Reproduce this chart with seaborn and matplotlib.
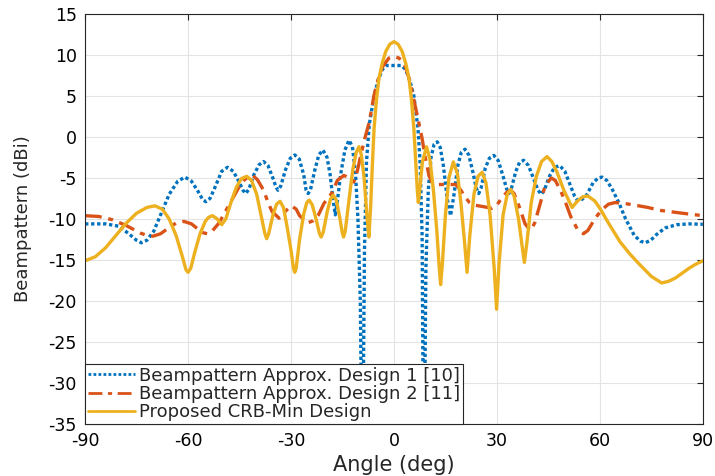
import matplotlib
matplotlib.use("Agg")
import matplotlib.pyplot as plt
import seaborn as sns
import pandas as pd

# values (angle in deg, beampattern in dBi)
design1_angle = [-90, -84, -80, -77, -75, -73.6, -72, -70, -68, -65.5, -63, -60.9, -59, -57,
                 -55.8, -54.8, -53.6, -52, -50.2, -48.5, -46.8, -45, -44, -43.2, -42.3, -40.8,
                 -39.3, -38, -36.7, -35.2, -34.4, -33.8, -33, -31.6, -30.2, -28.9, -27.6, -26.3,
                 -25.6, -25, -24.3, -23.1, -21.9, -20.7, -19.5, -18.6, -17.8, -17.1, -16.4,
                 -15.5, -14.3, -13.1, -12.1, -11.2, -10.5, -9.8, -9.2, -8.6, -8, -7.2, -5.8,
                 -4.6, -3.4, -2.2, 0, 2.2, 3.4, 4.6, 5.8, 7, 7.6, 8.2, 8.7, 9.3, 10, 10.8,
                 11.7, 12.6, 13.5, 14.4, 15.5, 16.5, 17.5, 18.6, 19.6, 20.7, 21.8, 23, 24,
                 24.7, 25.4, 26.6, 27.8, 29.1, 30.4, 31.8, 32.8, 33.5, 34.2, 35.5, 36.6, 37.8,
                 39.2, 40.8, 42, 42.9, 43.8, 45.3, 46.8, 48.3, 49.8, 51.5, 52.6, 53.4, 54.2,
                 56, 58, 59.5, 60.6, 62, 63.5, 65.5, 67.5, 70, 71.8, 73.2, 74.8, 76.5, 79,
                 82.4, 86, 90]
design1_db = [-10.6, -10.6, -10.9, -11.9, -12.6, -12.9, -12.6, -11.5, -9.5, -7.0, -5.4, -4.9, -5.4, -6.7,
              -7.6, -7.9, -7.5, -6.0, -4.2, -3.7, -4.2, -5.6, -6.5, -6.9, -6.4, -4.6,
              -3.4, -3.0, -3.5, -5.1, -6.1, -6.5, -6.0, -4.0, -2.6, -2.2, -2.7, -4.6,
              -6.5, -6.9, -6.4, -4.1, -2.2, -1.6, -2.5, -4.6, -7.5, -9.5, -7.5,
              -4.5, -1.6, -0.4, -1.2, -4.5, -10, -20, -45, -14, -3, 1.5, 5,
              6.9, 8.2, 8.7, 8.7, 8.7, 8.2, 6.9, 5, 1, -3, -12, -45, -16, -6.5, -2.5,
              -0.9, -0.6, -1.3, -3.5, -7.5, -9.6, -7, -3.5, -1.9, -1.5, -2.2, -4.3, -6.3,
              -6.9, -6.2, -3.8, -2.6, -2.25, -2.9, -4.8, -6.3, -6.9, -6.3, -4.2, -3.1, -2.85,
              -3.5, -5.2, -6.5, -7.0, -6.5, -4.8, -3.7, -3.5, -4.2, -6.0, -7.2, -7.7, -7.8,
              -7.2, -5.6, -5.0, -4.9, -5.3, -6.3, -8.0, -10.0, -12.0, -12.7, -12.9, -12.6, -11.9, -11.1,
              -10.7, -10.6, -10.65]

design2_angle = [-90, -86, -82, -78, -74, -72, -70.2, -68, -66, -63.5, -61.2, -59, -57.5, -55.5,
                 -54.3, -53, -51, -49, -47, -45, -43.5, -42.2, -41.2, -39.8, -38, -36.5, -35.5,
                 -33.5, -31.5, -29.9, -28.5, -27.5, -25.2, -23.5, -22, -20.4, -18, -16.5, -14.6,
                 -13, -11.7, -10.7, -9.7, -8.5, -7.2, -5.8, -4.6, -3.4, -1.5, 0, 1.5, 3.4, 4.6,
                 5.8, 7, 8.2, 9.2, 10.2, 11, 12, 15, 18, 19.5, 20.5, 22, 23.3, 26, 28.6, 30,
                 31.5, 33, 34, 35, 36.5, 38.2, 39.8, 41, 42.5, 44, 45.8, 47, 48.5, 50, 51.5,
                 53.5, 55.2, 56.5, 58.5, 60.5, 62.5, 64.4, 67, 70, 74, 77.5, 84, 90]
design2_db = [-9.6, -9.7, -10.1, -10.8, -11.7, -12.0, -12.1, -11.8, -11.2, -10.5, -10.3, -10.6, -11.1, -11.7,
              -11.8, -11.5, -10.5, -9.0, -7.5, -6.0, -5.2, -4.8, -4.7, -5.2, -6.5, -8.2, -9.1,
              -9.9, -9.0, -8.4, -8.8, -9.6, -10.5, -10.2, -9.5, -8.1, -6.8, -5.3, -4.7,
              -5.0, -5.5, -4.2, -2.3, -0.2, 1.8, 5.1, 7.0, 8.5, 9.6, 9.8, 9.6, 8.5, 6.8,
              4.5, 2.2, -0.2, -2.7, -4.7, -5.5, -5.8, -5.8, -5.8, -6.5, -7.2, -8.0, -8.3, -8.5, -8.7, -8.3,
              -7.4, -6.7, -6.5, -6.9, -8.5, -10.6, -11.4, -10.5, -8.3, -6.0, -5.0, -5.3, -6.5, -8.0, -9.7,
              -11.3, -11.8, -11.4, -10.0, -8.9, -8.2, -8.0, -8.1, -8.3, -8.6, -8.95, -9.3, -9.6]

crb_angle = [-90, -87, -84, -81, -78, -75, -72, -69.7, -67.5, -65.5, -63.5, -61.5, -60.6, -60,
             -59.2, -58, -56.5, -55, -54, -52.9, -51.5, -50.2, -49, -47.5, -46, -44.5, -42.9,
             -41.5, -40, -38.5, -37.6, -37.1, -36.5, -35.2, -34.2, -33.2, -32.2, -31.2, -30,
             -29.3, -28.9, -28.5, -27.5, -26.3, -25.4, -24.7, -23.8, -22.7, -21.7, -21.2,
             -20.6, -19.4, -18.5, -17.7, -16.8, -15.8, -15.1, -14.7, -14.2, -13.2, -12, -11,
             -10.2, -9.5, -8.7, -7.9, -7.3, -6.8, -6.3, -5.8, -5.1, -4.4, -3.4, -2.4, -1.2,
             0, 1.2, 2.4, 3.4, 4.4, 5.1, 5.8, 6.4, 6.8, 7.1, 7.5, 8.3, 9.5, 10.5, 11.5, 12.5,
             13.2, 13.6, 14.1, 15, 16, 17.3, 18.5, 19.5, 20.5, 21.3, 22.1, 23.3, 24.5, 25.7,
             26.8, 28, 29.2, 29.9, 30.6, 31.8, 33, 34, 35, 36.3, 37.4, 38, 38.7, 40, 41.5,
             43, 44.6, 46, 47.5, 49.5, 51.9, 53.5, 55, 56.5, 58.5, 60, 62.5, 65.9, 68.8,
             71.7, 75, 78, 80, 82, 84, 86, 88, 90]
crb_db = [-15.1, -14.6, -13.5, -12.0, -10.5, -9.3, -8.6, -8.4, -8.8, -10.0, -12.0, -14.8, -16.2, -16.5,
          -16.0, -14.0, -11.8, -10.3, -9.8, -9.6, -10.0, -10.7, -10.0, -8.0, -6.2, -5.1, -4.8,
          -5.3, -7.0, -10.0, -11.8, -12.4, -11.8, -9.4, -8.2, -7.85, -8.6, -10.8, -13.8,
          -16.0, -16.5, -16.0, -12.5, -9.4, -8.0, -7.7, -8.3, -10.0, -11.8, -12.2,
          -11.6, -9.0, -7.6, -7.1, -7.7, -9.8, -11.6, -12.2, -11.5, -8.0, -4.0, -1.9,
          -1.2, -2.2, -5.0, -9.5, -12.2, -8.5, -3.5, 1.0, 4.5, 7.1, 9.0, 10.4, 11.3,
          11.6, 11.3, 10.4, 9.0, 7.1, 4.5, 1.0, -3.5, -6.5, -8.0, -6.5, -3.0, -1.2, -2.8, -6.5, -11.5,
          -16.0, -18.0, -15.5, -9.5, -5.0, -3.05, -4.5, -8.0, -12.5, -16.5, -12.0, -7.0, -4.8, -4.3,
          -5.6, -9.5, -16.0, -21.0, -15.5, -9.5, -7.0, -6.4, -7.2, -10.0, -13.5, -15.3, -13.0, -8.0, -4.8,
          -3.0, -2.4, -3.0, -4.3, -6.5, -8.6, -7.8, -7.3, -7.2, -7.8, -8.7, -10.5, -12.8, -14.3,
          -15.6, -17.0, -17.8, -17.6, -17.2, -16.6, -16.0, -15.5, -15.1]

labels = ["Beampattern Approx. Design 1 [10]",
          "Beampattern Approx. Design 2 [11]",
          "Proposed CRB-Min Design"]

df = pd.concat([
    pd.DataFrame({"angle": design1_angle, "db": design1_db, "series": labels[0]}),
    pd.DataFrame({"angle": design2_angle, "db": design2_db, "series": labels[1]}),
    pd.DataFrame({"angle": crb_angle, "db": crb_db, "series": labels[2]}),
])

sns.set_style("whitegrid")
plt.rcParams['font.family'] = ['DejaVu Sans']
plt.rcParams['axes.unicode_minus'] = False

fig = plt.figure(figsize=(7.15, 4.76), dpi=100)
ax = fig.add_axes([0.119, 0.109, 0.864, 0.862])

colors = ["#0072BD", "#D95319", "#EDB120"]
dashes = [(1, 0.8), (5, 2, 1.5, 2), ""]
sns.lineplot(data=df, x="angle", y="db", hue="series", style="series",
             palette=colors, dashes=dashes, linewidth=2.4, sort=False,
             estimator=None, ax=ax)

ax.set_xlim(-90, 90)
ax.set_ylim(-35, 15)
ax.set_xticks(range(-90, 91, 30))
ax.set_yticks(range(-35, 16, 5))
ax.tick_params(direction="in", length=4, labelsize=12.5, top=True, right=True,
               colors="#262626", labelcolor="black")
ax.tick_params(axis="x", pad=6)
ax.tick_params(axis="y", pad=6)
ax.grid(True, color="#e3e3e3", linewidth=0.8)
for sp in ax.spines.values():
    sp.set_visible(True)
    sp.set_color("#262626")
    sp.set_linewidth(0.8)
ax.set_xlabel("Angle (deg)", fontsize=15, labelpad=3)
ax.set_ylabel("Beampattern (dBi)", fontsize=13, labelpad=12)

leg = ax.legend(loc="lower left", fontsize=13, frameon=True, fancybox=False,
                framealpha=1, borderaxespad=0, handlelength=2.6, handletextpad=0.25,
                borderpad=0.15, labelspacing=0.02)
leg.set_zorder(10)
leg.get_frame().set_edgecolor("#262626")
leg.get_frame().set_linewidth(0.8)
for line in leg.get_lines():
    line.set_linewidth(2.0)

fig.savefig("out.png", dpi=100)
